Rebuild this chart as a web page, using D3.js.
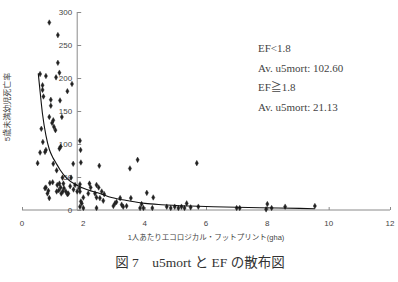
<!DOCTYPE html>
<html>
<head>
<meta charset="utf-8">
<script src="https://cdn.jsdelivr.net/npm/d3@7"></script>
<style>
  html, body { margin: 0; padding: 0; background: #fff; }
  svg { display: block; }
</style>
</head>
<body>
<div id="chart"></div>
<script>
// Scatter: under-5 mortality vs ecological footprint (gha per person)

// EF value of each country (x)
const ef = [
  0.89, 1.17, 1.17, 1.22, 0.59, 0.78, 1.11, 1.63,
  0.67, 0.67, 0.70, 1.48, 0.94, 1.24, 0.94,
  1.30, 0.89, 1.02, 0.98, 1.04, 1.09, 0.63,
  0.68, 0.78, 0.59, 0.75, 1.22, 1.26, 1.91, 1.89,
  0.51, 1.02, 1.67, 1.92, 2.52, 1.13, 1.32, 1.60,
  0.91, 1.00, 0.78, 0.86, 0.83, 0.89, 0.75,
  1.15, 1.22, 1.35, 1.26, 1.37, 1.20, 1.33, 1.43, 1.48, 1.28, 1.13,
  1.57, 1.73, 1.89, 1.87, 1.80, 1.68, 1.51,
  2.20, 2.24, 2.43, 2.50, 1.89, 2.16, 2.38, 2.00, 1.95, 1.92, 2.00, 1.89,
  2.60, 2.68, 2.43, 2.65, 2.54, 2.43,
  2.98, 3.03, 3.08, 3.20, 3.25, 3.30, 3.41, 3.55, 3.52, 3.77,
  3.90, 3.85, 3.96, 4.07, 4.25, 4.28,
  4.72, 4.85, 4.98, 5.10, 5.20, 5.30, 5.37, 5.50, 5.75, 5.70,
  7.00, 7.10, 7.96, 8.00, 8.14, 8.58, 9.55
];

// under-5 mortality of each country (y)
const u5mort = [
  284, 265, 223, 208, 206, 203, 201, 191,
  189, 182, 172, 180, 167, 166, 158,
  141, 141, 136, 132, 126, 121, 123,
  103, 91, 87, 88, 93, 96, 91, 105,
  71, 70, 70, 72, 67, 60, 49, 49,
  41, 42, 34, 29, 25, 18, 33,
  38, 40, 40, 34, 33, 30, 28, 28, 24, 25, 28,
  36, 38, 39, 33, 28, 31, 25,
  40, 34, 38, 34, 28, 25, 25, 19, 10, 13, 3, 5,
  28, 24, 19, 14, 18, 3,
  6, 10, 12, 18, 8, 5, 6, 18, 63, 76,
  9, 3, 3, 26, 3, 19,
  5, 3, 5, 3, 5, 3, 10, 4, 5, 71,
  3, 3, 1, 9, 3, 5, 6
];

// power trend line
const trendEf = [0.53, 0.60, 0.67, 0.78, 0.89, 1.00, 1.10, 1.24, 1.46, 1.78, 2.11, 2.54, 2.92, 3.47, 4.01, 4.55, 5.50, 6.24, 7.76, 9.06, 9.55];
const trendU5 = [207, 175, 145, 113, 92, 80, 72, 61, 48, 38, 31, 25, 19, 14, 10, 8, 6, 5, 3.5, 2.5, 2];

const xTicks = [0, 2, 4, 6, 8, 10, 12];
const yTicks = [0, 50, 100, 150, 200, 250, 300];

const notes = ["EF<1.8", "Av. u5mort: 102.60", "EF\u22671.8", "Av. u5mort: 21.13"];

const W = 398, H = 282;
const AXIS_CROSS = 1.8;   // y axis sits at EF = 1.8

const svg = d3.select("#chart").append("svg")
  .attr("width", W)
  .attr("height", H);

const x = d3.scaleLinear().domain([0, 12]).range([22, 390]);
const y = d3.scaleLinear().domain([0, 300]).range([210, 12]);

const axisColor = "#8a8a8a";
const textColor = "#444";
const sans = "'Liberation Sans', Arial, 'Noto Sans CJK JP', sans-serif";
const serif = "'Liberation Serif', 'Times New Roman', 'Noto Sans CJK JP', serif";

// x axis
const xAxis = svg.append("g")
  .attr("transform", `translate(0,${y(0)})`)
  .call(d3.axisTop(x).tickValues(xTicks).tickSize(3).tickFormat(""));
xAxis.select(".domain").attr("stroke", axisColor).attr("d", `M${x(0)},0H${x(12)}`);
xAxis.selectAll(".tick line").attr("stroke", axisColor);

svg.append("g").selectAll("text")
  .data(xTicks)
  .join("text")
  .attr("x", d => x(d))
  .attr("y", y(0) + 16)
  .attr("text-anchor", "middle")
  .style("font-family", sans)
  .style("font-size", "8px")
  .style("fill", textColor)
  .text(d => d);

// y axis
const yAxis = svg.append("g")
  .attr("transform", `translate(${x(AXIS_CROSS)},0)`)
  .call(d3.axisRight(y).tickValues(yTicks).tickSize(4).tickFormat(""));
yAxis.select(".domain").attr("stroke", axisColor).attr("d", `M0,${y(300)}V${y(0)}`);
yAxis.selectAll(".tick line").attr("stroke", axisColor);

svg.append("g").selectAll("text")
  .data(yTicks)
  .join("text")
  .attr("x", x(AXIS_CROSS) - 5)
  .attr("y", d => y(d) + 3)
  .attr("text-anchor", "end")
  .style("font-family", sans)
  .style("font-size", "8px")
  .style("fill", textColor)
  .text(d => d);

// points
const points = ef.map((v, i) => ({ ef: v, u5: u5mort[i] }));
svg.append("g").selectAll("path")
  .data(points)
  .join("path")
  .attr("transform", d => `translate(${x(d.ef)},${y(d.u5)})`)
  .attr("d", d3.symbol(d3.symbolDiamond, 9))
  .attr("fill", "#222")
  .attr("stroke", "#222")
  .attr("stroke-width", 0.4);

// trend line
const trend = trendEf.map((v, i) => [v, trendU5[i]]);
svg.append("path")
  .datum(trend)
  .attr("fill", "none")
  .attr("stroke", "#111")
  .attr("stroke-width", 1.1)
  .attr("d", d3.line().x(d => x(d[0])).y(d => y(d[1])).curve(d3.curveMonotoneX));

// notes
svg.append("g").selectAll("text")
  .data(notes)
  .join("text")
  .attr("x", 258)
  .attr("y", (d, i) => 52 + i * 19.7)
  .style("font-family", serif)
  .style("font-size", "11px")
  .style("fill", "#444")
  .text(d => d);

// axis titles
svg.append("text")
  .attr("x", 206)
  .attr("y", 240)
  .attr("text-anchor", "middle")
  .style("font-family", sans)
  .style("font-size", "7.5px")
  .style("fill", textColor)
  .text("1人あたりエコロジカル・フットプリント(gha)");

svg.append("text")
  .attr("transform", "translate(10,107) rotate(-90)")
  .attr("text-anchor", "middle")
  .style("font-family", sans)
  .style("font-size", "8px")
  .style("fill", textColor)
  .text("5歳未満幼児死亡率");

// caption
svg.append("text")
  .attr("x", 200)
  .attr("y", 267)
  .attr("text-anchor", "middle")
  .style("font-family", serif)
  .style("font-size", "13.5px")
  .style("fill", "#333")
  .text("図 7　u5mort と EF の散布図");
</script>
</body>
</html>
